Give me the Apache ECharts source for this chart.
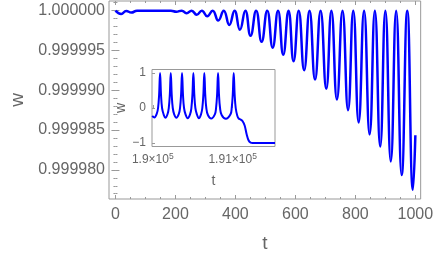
<!DOCTYPE html>
<html>
<head>
<meta charset="utf-8">
<script src="https://cdn.jsdelivr.net/npm/echarts@6/dist/echarts.min.js"></script>
<style>html,body{margin:0;padding:0;background:#fff}#c{width:436px;height:258px}</style>
</head>
<body>
<div id="c"></div>
<script>
// ---- main plot data (t, w): extrema of the oscillation ----
var mainT = [0, 19, 36, 53, 72, 110, 150, 185, 203, 221, 237, 254, 271, 288, 306, 324, 342.8, 361, 379.7, 397, 415, 433, 450.4, 469, 487.3, 506, 524.2, 542, 559.5, 577, 593.9, 611, 629.2, 647, 665.5, 684, 703, 720, 738.4, 757, 775.6, 793, 810.9, 829, 847.5, 865, 882.8, 900, 918.1, 936, 954.4, 973, 991.9, 1000];
var mainW = [1.0, 0.99999959, 0.99999996, 0.99999975, 1.0, 1.0, 1.0, 1.0, 0.99999985, 1.0, 0.99999968, 1.0, 0.99999948, 1.0, 0.99999930, 1.0, 0.99999876, 1.0, 0.99999821, 1.0, 0.99999759, 1.0, 0.99999684, 1.0, 0.99999609, 1.0, 0.99999534, 1.0, 0.99999446, 1.0, 0.99999363, 1.0, 0.99999250, 1.0, 0.99999134, 1.0, 0.99999018, 1.0, 0.99998884, 1.0, 0.99998750, 1.0, 0.99998596, 1.0, 0.99998446, 1.0, 0.99998293, 1.0, 0.99998105, 1.0, 0.99997934, 1.0, 0.99997750, 0.99998434];

// ---- inset data (t, w) ----
var insetT = [189992, 190020, 190050, 190066, 190079, 190091, 190103, 190116, 190135, 190158,
  190185, 190200, 190213, 190225, 190237, 190250, 190268, 190295,
  190326, 190341, 190354, 190366, 190378, 190391, 190410, 190437,
  190468, 190483, 190496, 190508, 190520, 190533, 190552, 190577,
  190605, 190620, 190633, 190645, 190657, 190670, 190690, 190731,
  190777, 190792, 190805, 190817, 190829, 190842, 190862, 190915,
  190973, 190988, 191001, 191013, 191025, 191038, 191058,
  191075, 191100, 191125, 191150, 191175, 191200, 191225, 191250, 191300, 191530];
var insetW = [-0.23, -0.27, -0.16, 0.0, 0.38, 1.0, 0.38, 0.0, -0.18, -0.28,
  -0.17, 0.0, 0.38, 1.0, 0.38, 0.0, -0.18, -0.28,
  -0.17, 0.0, 0.38, 1.0, 0.38, 0.0, -0.18, -0.29,
  -0.17, 0.0, 0.38, 1.0, 0.38, 0.0, -0.18, -0.29,
  -0.17, 0.0, 0.38, 1.0, 0.38, 0.0, -0.2, -0.3,
  -0.18, 0.0, 0.38, 1.0, 0.38, 0.0, -0.2, -0.31,
  -0.18, 0.0, 0.38, 1.0, 0.38, 0.0, -0.22,
  -0.3, -0.33, -0.38, -0.5, -0.75, -0.93, -0.99, -1.0, -1.0, -1.0];

// ---- ticks ----
var xMajor = [0, 200, 400, 600, 800, 1000];
var xMinor = [0, 50, 100, 150, 200, 250, 300, 350, 400, 450, 500, 550, 600, 650, 700, 750, 800, 850, 900, 950, 1000];
var yMajor = [0.99998, 0.999985, 0.99999, 0.999995, 1.0];
var yMinor = [0.999977, 0.999978, 0.999979, 0.99998, 0.999981, 0.999982, 0.999983, 0.999984, 0.999985, 0.999986, 0.999987, 0.999988, 0.999989, 0.99999, 0.999991, 0.999992, 0.999993, 0.999994, 0.999995, 0.999996, 0.999997, 0.999998, 0.999999, 1.0, 1.000001];
var insetXTicks = [190000, 191000];
var insetYTicks = [-1, 0, 1];

var FONT = 'Liberation Sans, Arial, sans-serif';
var GRAY = '#666';
var FRAME = '#999';

function zip(a, b) { return a.map(function (v, i) { return [v, b[i]]; }); }

var XMIN = -21.5, XMAX = 1017.7, YMIN = 0.99997634, YMAX = 1.00000121;
var IXMIN = 189990, IXMAX = 191530, IYMIN = -1.1, IYMAX = 1.1;

function tickAxis(extra) {
  var base = {
    type: 'value', axisLine: { show: false }, splitLine: { show: false },
    axisLabel: { show: false }
  };
  for (var k in extra) base[k] = extra[k];
  return base;
}

var chart = echarts.init(document.getElementById('c'), null, { renderer: 'canvas' });
chart.setOption({
  animation: false,
  grid: [
    { left: 100, top: 1, width: 323.5, height: 199, show: true, borderColor: FRAME, borderWidth: 1, backgroundColor: 'transparent', z: 0 },
    { left: 152, top: 69.5, width: 123, height: 77, show: true, borderColor: FRAME, borderWidth: 1, backgroundColor: '#fff', z: 10 }
  ],
  xAxis: [
    tickAxis({ gridIndex: 0, min: XMIN, max: XMAX, position: 'bottom',
      axisTick: { inside: true, length: 4, customValues: xMajor, lineStyle: { color: FRAME } },
      axisLabel: { show: true, customValues: xMajor, margin: 8, fontSize: 16, color: GRAY, fontFamily: FONT,
        formatter: function (v) { return String(v); } },
      name: 't', nameLocation: 'middle', nameGap: 35, nameTextStyle: { fontSize: 19, color: GRAY, fontFamily: FONT } }),
    tickAxis({ gridIndex: 0, min: XMIN, max: XMAX, position: 'bottom',
      axisTick: { inside: true, length: 2, customValues: xMinor, lineStyle: { color: FRAME } } }),
    tickAxis({ gridIndex: 0, min: XMIN, max: XMAX, position: 'top',
      axisTick: { inside: true, length: 4, customValues: xMajor, lineStyle: { color: FRAME } } }),
    tickAxis({ gridIndex: 0, min: XMIN, max: XMAX, position: 'top',
      axisTick: { inside: true, length: 2, customValues: xMinor, lineStyle: { color: FRAME } } }),
    tickAxis({ gridIndex: 1, min: IXMIN, max: IXMAX, position: 'bottom', z: 11,
      axisTick: { inside: true, length: 3, customValues: insetXTicks, lineStyle: { color: FRAME } },
      axisLabel: { show: true, customValues: insetXTicks, margin: 6, color: GRAY, fontFamily: FONT,
        formatter: function (v) { return '{b|' + (v / 1e5).toString() + '×10}{s|5}'; },
        rich: { b: { fontSize: 12, color: GRAY, fontFamily: FONT, lineHeight: 15 },
                s: { fontSize: 8.5, color: GRAY, fontFamily: FONT, verticalAlign: 'top', lineHeight: 15 } } },
      name: 't', nameLocation: 'middle', nameGap: 28, nameTextStyle: { fontSize: 14, color: GRAY, fontFamily: FONT } })
  ],
  yAxis: [
    tickAxis({ gridIndex: 0, min: YMIN, max: YMAX, position: 'left',
      axisTick: { inside: true, length: 4, customValues: yMajor, lineStyle: { color: FRAME } },
      axisLabel: { show: true, customValues: yMajor, margin: 4, fontSize: 16, color: GRAY, fontFamily: FONT,
        formatter: function (v) { return v.toFixed(6); } },
      name: 'w', nameLocation: 'middle', nameRotate: 90, nameGap: 82, nameTextStyle: { fontSize: 19, color: GRAY, fontFamily: FONT } }),
    tickAxis({ gridIndex: 0, min: YMIN, max: YMAX, position: 'left',
      axisTick: { inside: true, length: 2, customValues: yMinor, lineStyle: { color: FRAME } } }),
    tickAxis({ gridIndex: 0, min: YMIN, max: YMAX, position: 'right',
      axisTick: { inside: true, length: 4, customValues: yMajor, lineStyle: { color: FRAME } } }),
    tickAxis({ gridIndex: 0, min: YMIN, max: YMAX, position: 'right',
      axisTick: { inside: true, length: 2, customValues: yMinor, lineStyle: { color: FRAME } } }),
    tickAxis({ gridIndex: 1, min: IYMIN, max: IYMAX, position: 'left', z: 11,
      axisTick: { inside: true, length: 3, customValues: insetYTicks, lineStyle: { color: FRAME } },
      axisLabel: { show: true, customValues: insetYTicks, margin: 6, fontSize: 12, color: GRAY, fontFamily: FONT,
        formatter: function (v) { return v < 0 ? '\u2212' + Math.abs(v) : String(v); } },
      name: 'w', nameLocation: 'middle', nameRotate: 90, nameGap: 21, nameTextStyle: { fontSize: 14, color: GRAY, fontFamily: FONT } })
  ],
  series: [
    { type: 'line', xAxisIndex: 0, yAxisIndex: 0, data: zip(mainT, mainW), showSymbol: false, smooth: 0.5,
      lineStyle: { color: '#0000ff', width: 2.5 }, z: 2 },
    { type: 'line', xAxisIndex: 4, yAxisIndex: 4, data: zip(insetT, insetW), showSymbol: false, smooth: 0.4,
      lineStyle: { color: '#0000ff', width: 2 }, z: 12 }
  ]
});
</script>
</body>
</html>
